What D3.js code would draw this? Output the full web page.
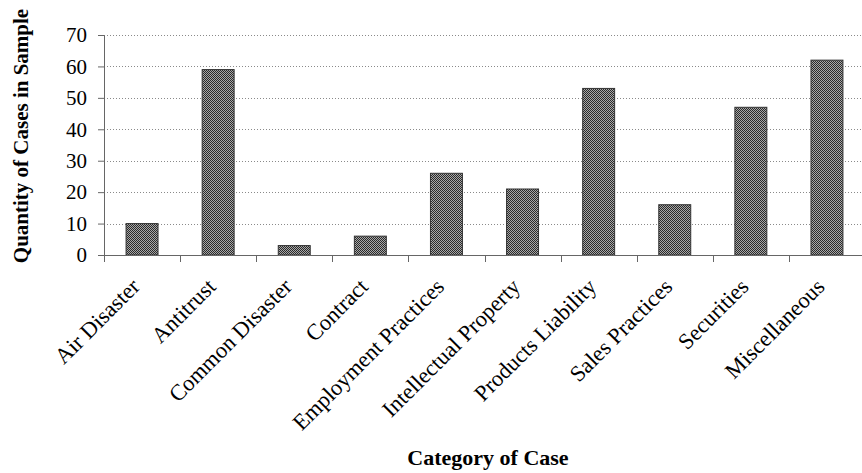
<!DOCTYPE html>
<html>
<head>
<meta charset="utf-8">
<script src="https://cdn.jsdelivr.net/npm/d3@7"></script>
<style>
  body { margin: 0; background: #fff; }
  text { font-family: "Liberation Serif", "Times New Roman", serif; fill: #000; }
</style>
</head>
<body>
<svg id="chart" width="862" height="473"></svg>
<script>
// categories and counts
var categories = ["Air Disaster", "Antitrust", "Common Disaster", "Contract", "Employment Practices",
    "Intellectual Property", "Products Liability", "Sales Practices", "Securities", "Miscellaneous"];
var counts = [10, 59, 3, 6, 26, 21, 53, 16, 47, 62];
var yTicks = [0, 10, 20, 30, 40, 50, 60, 70];

var data = categories.map(function (c, i) { return { name: c, value: counts[i] }; });

var svg = d3.select("#chart");
var plotLeft = 104, plotRight = 865, plotTop = 35, plotBottom = 255;

// dithered bar fill
var defs = svg.append("defs");
var pat = defs.append("pattern")
    .attr("id", "dots")
    .attr("width", 2).attr("height", 2)
    .attr("patternUnits", "userSpaceOnUse");
pat.append("rect").attr("width", 2).attr("height", 2).attr("fill", "#a8a8a8");
pat.append("rect").attr("width", 1).attr("height", 1).attr("fill", "#2a2a2a");
pat.append("rect").attr("x", 1).attr("y", 1).attr("width", 1).attr("height", 1).attr("fill", "#2a2a2a");

var x = d3.scaleBand()
    .domain(categories)
    .range([plotLeft, plotRight])
    .paddingInner(0.58)
    .paddingOuter(0.29);

var y = d3.scaleLinear()
    .domain([0, 70])
    .range([plotBottom, plotTop]);

var step = x.step();

// dotted gridlines
svg.append("g")
    .selectAll("line")
    .data(yTicks.slice(1))
    .enter().append("line")
    .attr("x1", plotLeft).attr("x2", plotRight)
    .attr("y1", d => Math.round(y(d)) + 0.5).attr("y2", d => Math.round(y(d)) + 0.5)
    .attr("stroke", "#8a8a8a")
    .attr("stroke-width", 1)
    .attr("stroke-dasharray", "1,2");

// y axis
var yAxis = svg.append("g")
    .attr("transform", "translate(" + plotLeft + ",0)")
    .call(d3.axisLeft(y).tickValues(yTicks).tickSize(6).tickPadding(11));
yAxis.select(".domain").attr("stroke", "#666");
yAxis.selectAll(".tick line").attr("stroke", "#666");
yAxis.selectAll(".tick text")
    .style("font-family", "'Liberation Serif', 'Times New Roman', serif")
    .style("font-size", "21px")
    .attr("fill", "#000");

// bars
svg.append("g")
    .selectAll("rect")
    .data(data)
    .enter().append("rect")
    .attr("x", d => x(d.name))
    .attr("y", d => y(d.value))
    .attr("width", x.bandwidth())
    .attr("height", d => y(0) - y(d.value))
    .attr("fill", "url(#dots)")
    .attr("stroke", "#333")
    .attr("stroke-width", 1);

// x axis line and ticks between categories
svg.append("line")
    .attr("x1", plotLeft).attr("x2", plotRight)
    .attr("y1", plotBottom + 0.5).attr("y2", plotBottom + 0.5)
    .attr("stroke", "#666");

var boundaries = categories.map(c => x(c) - step * 0.29).concat([plotRight]);
svg.append("g")
    .selectAll("line")
    .data(boundaries)
    .enter().append("line")
    .attr("x1", d => Math.round(d) + 0.5).attr("x2", d => Math.round(d) + 0.5)
    .attr("y1", plotBottom).attr("y2", plotBottom + 7)
    .attr("stroke", "#666");

// rotated category labels
svg.append("g")
    .selectAll("text")
    .data(categories)
    .enter().append("text")
    .attr("transform", d => "translate(" + (x(d) + x.bandwidth() / 2 - 1) + "," + (plotBottom + 33) + ") rotate(-45)")
    .attr("text-anchor", "end")
    .style("font-size", "22.5px")
    .text(d => d);

// axis titles
svg.append("text")
    .attr("x", 488)
    .attr("y", 465)
    .attr("text-anchor", "middle")
    .style("font-size", "22px")
    .style("font-weight", "bold")
    .text("Category of Case");

svg.append("text")
    .attr("transform", "translate(28,136) rotate(-90)")
    .attr("text-anchor", "middle")
    .style("font-size", "21px")
    .style("font-weight", "bold")
    .text("Quantity of Cases in Sample");
</script>
</body>
</html>
